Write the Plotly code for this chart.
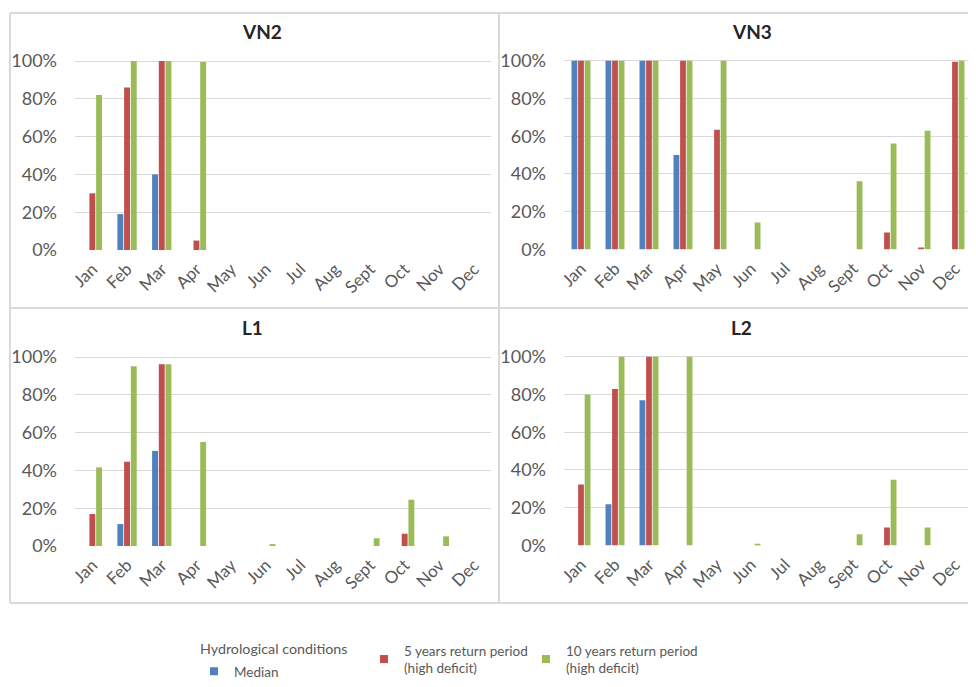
import plotly.graph_objects as go

OFF = 8  # the page places the figure 8 px in from the top-left corner
W, H = 976 - OFF, 687 - 2 * OFF
VISIBLE_RIGHT = 968  # right edge of what the screenshot shows

months = ["Jan", "Feb", "Mar", "Apr", "May", "Jun", "Jul", "Aug", "Sept", "Oct", "Nov", "Dec"]
y_ticks = [0, 0.2, 0.4, 0.6, 0.8, 1.0]
y_ticklabels = ["0%", "20%", "40%", "60%", "80%", "100%"]

series_names = ["Median", "5 years return period<br>(high deficit)", "10 years return period<br>(high deficit)"]
colors = ["#4F81BD", "#C0504D", "#9BBB59"]

VN2_median = [0, 0.19, 0.40, 0, 0, 0, 0, 0, 0, 0, 0, 0]
VN2_5y = [0.30, 0.86, 1.00, 0.05, 0, 0, 0, 0, 0, 0, 0, 0]
VN2_10y = [0.82, 1.00, 1.00, 0.995, 0, 0, 0, 0, 0, 0, 0, 0]

VN3_median = [1.00, 1.00, 1.00, 0.50, 0, 0, 0, 0, 0, 0, 0, 0]
VN3_5y = [1.00, 1.00, 1.00, 1.00, 0.634, 0, 0, 0, 0, 0.09, 0.011, 0.995]
VN3_10y = [1.00, 1.00, 1.00, 1.00, 1.00, 0.143, 0, 0, 0.362, 0.562, 0.629, 1.00]

L1_median = [0, 0.116, 0.503, 0, 0, 0, 0, 0, 0, 0, 0, 0]
L1_5y = [0.169, 0.446, 0.961, 0, 0, 0, 0, 0, 0, 0.065, 0, 0]
L1_10y = [0.416, 0.951, 0.961, 0.55, 0, 0.009, 0, 0, 0.041, 0.245, 0.051, 0]

L2_median = [0, 0.219, 0.769, 0, 0, 0, 0, 0, 0, 0, 0, 0]
L2_5y = [0.323, 0.829, 1.00, 0, 0, 0, 0, 0, 0, 0.095, 0, 0]
L2_10y = [0.80, 1.00, 1.00, 1.00, 0, 0.009, 0, 0, 0.06, 0.348, 0.095, 0]

panel_titles = ["VN2", "VN3", "L1", "L2"]
panel_data = [
    [VN2_median, VN2_5y, VN2_10y],
    [VN3_median, VN3_5y, VN3_10y],
    [L1_median, L1_5y, L1_10y],
    [L2_median, L2_5y, L2_10y],
]

FONT = "Lato, Open Sans, sans-serif"
TICK_COLOR = "#595959"
GRID = "#D9D9D9"
BORDER = "#D9D9D9"


def px(x):
    return (x - OFF) / W


def py(y):
    return 1 - (y - OFF) / H


YTOP = 1.01
# layout (screen pixels) for each panel: plot left, plot right, category width, y of 0%, y of 100%, title centre
panels = [
    dict(left=75, right=491, cw=34.7, y0=250, y100=61, tx=262, ty=32),
    dict(left=564, right=VISIBLE_RIGHT, cw=34.0, y0=249.5, y100=60.7, tx=752, ty=32),
    dict(left=75, right=491, cw=34.7, y0=546, y100=357, tx=252, ty=327),
    dict(left=564, right=VISIBLE_RIGHT, cw=34.0, y0=545.5, y100=356.7, tx=741, ty=327),
]

fig = go.Figure()
layout = dict()
annotations = []

for i, (p, title, data) in enumerate(zip(panels, panel_titles, panel_data)):
    n = "" if i == 0 else str(i + 1)
    xa, ya = "x" + n, "y" + n
    for s, (vals, col, name) in enumerate(zip(data, colors, series_names)):
        fig.add_trace(go.Bar(
            x=months, y=vals, name=name, marker=dict(color=col, line=dict(width=0)),
            xaxis=xa, yaxis=ya, showlegend=False, offsetgroup=str(s),
        ))
    span = p["y0"] - p["y100"]
    top_px = p["y0"] - YTOP * span
    xmax = -0.5 + (p["right"] - p["left"]) / p["cw"]
    layout["xaxis" + n] = dict(
        domain=[px(p["left"]), px(p["right"])], anchor=ya, automargin=False,
        type="category", categoryorder="array", categoryarray=months,
        range=[-0.5, xmax], tickangle=-45, showgrid=False, zeroline=False, showline=False,
        ticks="", ticklabelstandoff=5,
        tickfont=dict(family=FONT, size=17, color=TICK_COLOR), fixedrange=True,
    )
    layout["yaxis" + n] = dict(
        domain=[py(p["y0"]), py(top_px)], anchor=xa, range=[0, YTOP], automargin=False,
        tickvals=y_ticks, ticktext=y_ticklabels, showgrid=True, gridcolor=GRID, gridwidth=1,
        zeroline=False, showline=False, ticks="", ticklabelstandoff=17,
        tickfont=dict(family=FONT, size=18, color=TICK_COLOR), fixedrange=True,
    )
    annotations.append(dict(
        text="<b>" + title + "</b>", x=px(p["tx"]), y=py(p["ty"]), xref="paper", yref="paper",
        showarrow=False, xanchor="center", yanchor="middle",
        font=dict(family=FONT, size=19, color="#262626"),
    ))

# legend entries (one legend per entry to mimic the Excel wrapped layout)
legend_ids = ["legend", "legend2", "legend3"]
legend_pos = [(194, 656), (364, 635), (526, 635)]
for name, col, lid in zip(series_names, colors, legend_ids):
    fig.add_trace(go.Scatter(
        x=[None], y=[None], mode="markers", name=name,
        marker=dict(symbol="square", size=8, color=col),
        showlegend=True, legend=lid, xaxis="x", yaxis="y",
    ))
for lid, (lx, ly) in zip(legend_ids, legend_pos):
    layout[lid] = dict(
        x=px(lx), y=py(ly), xanchor="left", yanchor="top", xref="paper", yref="paper",
        bgcolor="rgba(0,0,0,0)", borderwidth=0, itemclick=False, itemdoubleclick=False,
        font=dict(family=FONT, size=13.5, color=TICK_COLOR), tracegroupgap=0,
    )

annotations.append(dict(
    text="Hydrological conditions", x=px(198), y=py(648), xref="paper", yref="paper",
    showarrow=False, xanchor="left", yanchor="middle",
    font=dict(family=FONT, size=14.3, color=TICK_COLOR),
))

# chart frame borders (screen pixels)
shapes = []
lines = [
    ((10, 13), (976, 13)),
    ((10, 13), (10, 603)),
    ((10, 603), (976, 603)),
    ((499, 13), (499, 603)),
    ((10, 308), (976, 308)),
]
for (x0, y0), (x1, y1) in lines:
    shapes.append(dict(type="line", xref="paper", yref="paper",
                       x0=px(x0), y0=py(y0), x1=min(1.0, px(x1)), y1=py(y1),
                       line=dict(color=BORDER, width=2), layer="below"))

fig.update_layout(
    template="none",
    width=W, height=H, margin=dict(l=0, r=0, t=0, b=0, autoexpand=False),
    paper_bgcolor="white", plot_bgcolor="white",
    barmode="group", bargap=0.42, bargroupgap=0.12,
    annotations=annotations, shapes=shapes,
    font=dict(family=FONT),
    **layout,
)

fig.write_html("out.html")
